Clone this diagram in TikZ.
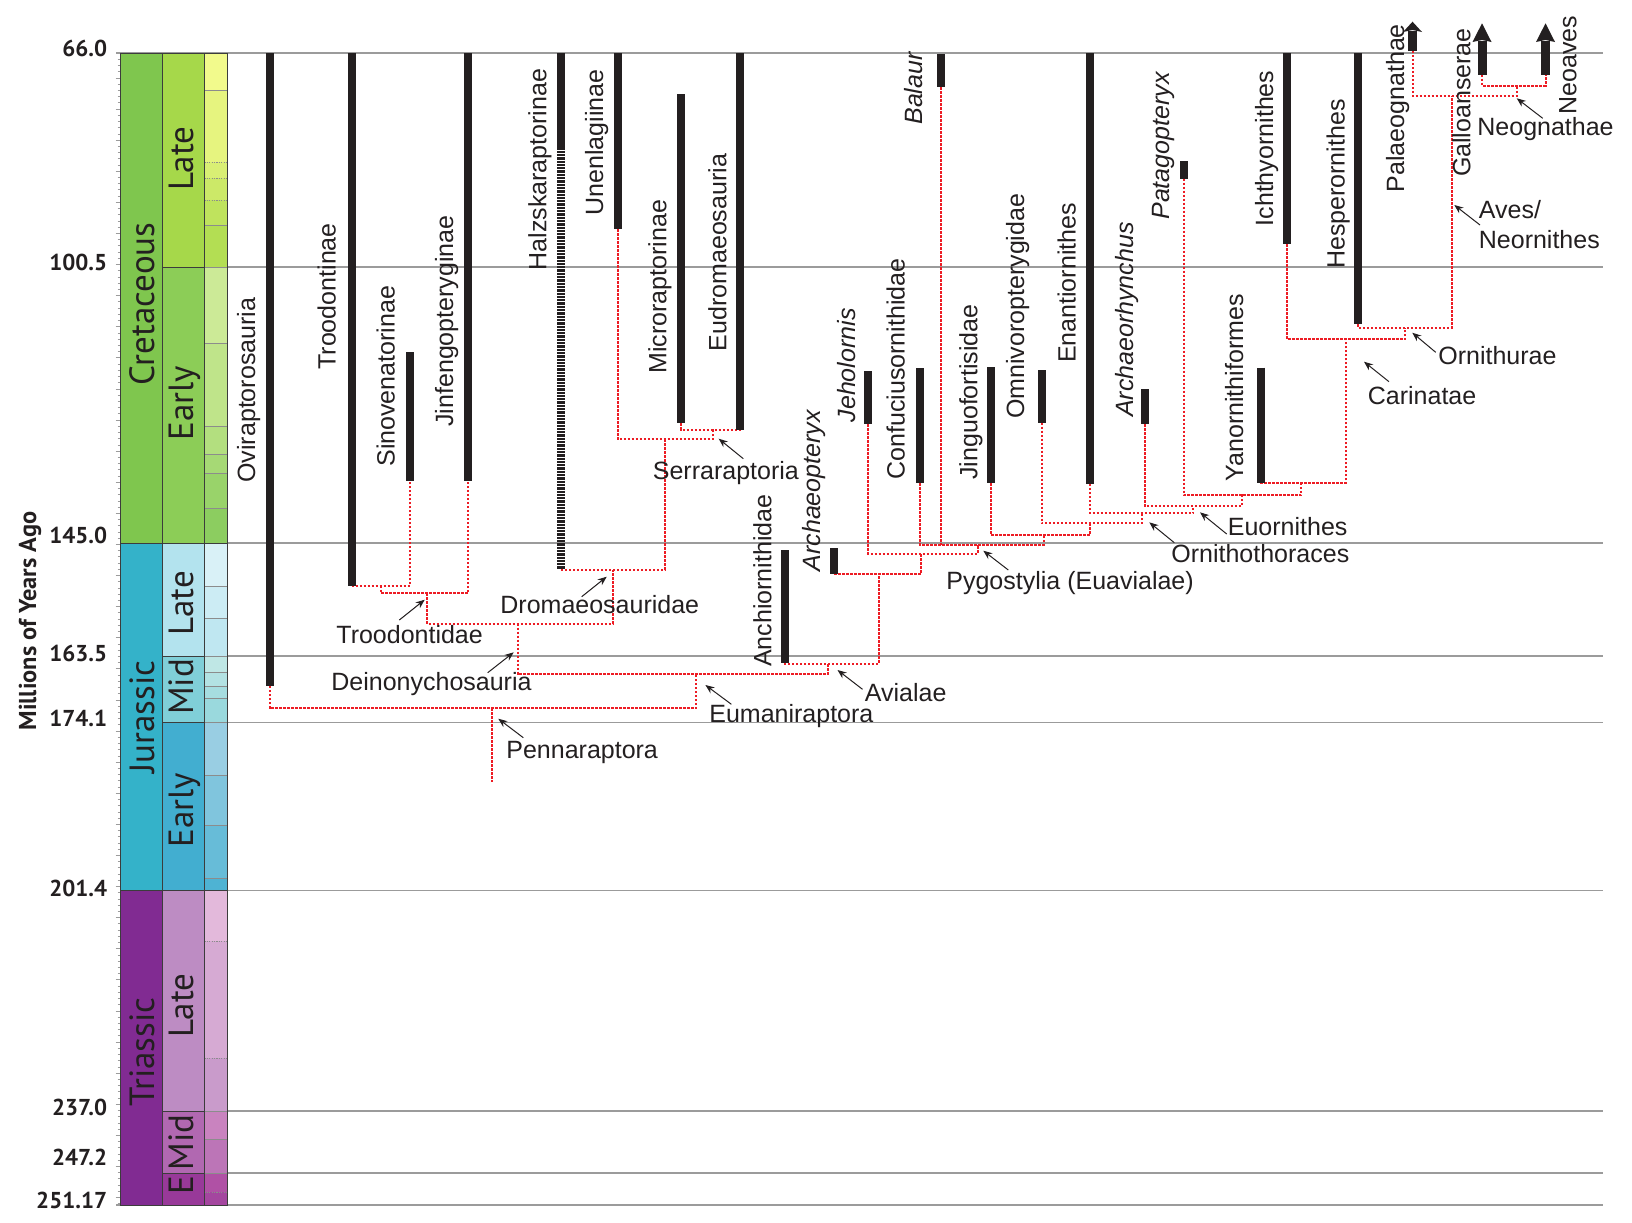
\documentclass[tikz,border=0pt]{standalone}
\usepackage{fontspec}
\setmainfont{Liberation Sans}
\newfontfamily\tsfont{PT Sans}
\usetikzlibrary{arrows.meta}
\definecolor{ink}{HTML}{231F20}
\definecolor{treered}{HTML}{ED1C24}
\definecolor{gridgray}{HTML}{9B9B9B}
\definecolor{colline}{HTML}{3C3C3C}
\definecolor{stline}{HTML}{8C8C8C}
% periods
\definecolor{pK}{HTML}{7FC64E}\definecolor{pJ}{HTML}{34B2C9}\definecolor{pT}{HTML}{812B92}
% epochs
\definecolor{eK2}{HTML}{A6D84A}\definecolor{eK1}{HTML}{8CCD57}
\definecolor{eJ3}{HTML}{B3E3EE}\definecolor{eJ2}{HTML}{80CFD8}\definecolor{eJ1}{HTML}{42AED0}
\definecolor{eT3}{HTML}{BD8CC3}\definecolor{eT2}{HTML}{B168B1}\definecolor{eT1}{HTML}{983999}
\newcommand\tkTax{\fontsize{12.5}{15}\selectfont}
\newcommand\tkNum{\tsfont\bfseries\fontsize{11.5}{13}\selectfont}
\newcommand\tkPer{\tsfont\fontsize{17.5}{20}\selectfont}
\newcommand\tkAxis{\tsfont\bfseries\fontsize{12.2}{14}\selectfont}
\tikzset{
  bar/.style={draw=ink, line width=4pt},
  hatchbar/.style={draw=ink, line width=4pt, dash pattern=on 1.15pt off 0.5pt},
  conn/.style={draw=treered, line width=1pt, dash pattern=on 1.2pt off 0.8pt},
  gridline/.style={draw=gridgray, line width=0.6pt},
  lbl/.style={font=\tkTax, text=ink, inner sep=0pt, anchor=base west},
  rlbl/.style={lbl, rotate=90},
  ilbl/.style={rlbl, font=\tkTax\itshape},
  ptr/.style={draw=ink, line width=0.5pt, -{Stealth[length=4.5pt,width=3.6pt]}},
  agelbl/.style={font=\tkNum, text=ink, inner sep=0pt, anchor=base east},
  perlbl/.style={font=\tkPer, text=ink, inner sep=0pt, anchor=base, rotate=90},
  colborder/.style={draw=colline, line width=0.5pt},
  stageline/.style={draw=stline, line width=0.35pt},
  stagedot/.style={draw=stline, line width=0.35pt, dash pattern=on 0.6pt off 0.6pt},
  tick/.style={draw=gridgray, line width=0.35pt},
  headfill/.style={fill=ink},
}
\begin{document}
\begin{tikzpicture}[x=0.5pt,y=-0.5pt]
\useasboundingbox (0,0) rectangle (1632,1222);

% ---------------- horizontal time lines
\foreach \yy in {267,543,656,722.5,890.5,1111,1173}
  \draw[gridline] (227.5,\yy) -- (1603,\yy);
\draw[gridline] (116,53) -- (1603,53);
\draw[gridline] (116,1205) -- (1603,1205);

% ---------------- ruler ticks
\foreach \t in {66,...,251}{
  \pgfmathsetmacro\ty{53+(\t-66)*6.22}
  \pgfmathtruncatemacro\tm{mod(\t,5)}
  \ifnum\tm=0 \draw[tick] (115.5,\ty) -- (120.5,\ty); \else \draw[tick] (117.5,\ty) -- (120.5,\ty); \fi
}

% ---------------- period column
\fill[pK] (120.5,53) rectangle (162,543);
\fill[pJ] (120.5,543) rectangle (162,890.5);
\fill[pT] (120.5,890.5) rectangle (162,1205);
% ---------------- epoch column
\fill[eK2] (162,53) rectangle (204.3,267);
\fill[eK1] (162,267) rectangle (204.3,543);
\fill[eJ3] (162,543) rectangle (204.3,656);
\fill[eJ2] (162,656) rectangle (204.3,722.5);
\fill[eJ1] (162,722.5) rectangle (204.3,890.5);
\fill[eT3] (162,890.5) rectangle (204.3,1111);
\fill[eT2] (162,1111) rectangle (204.3,1173);
\fill[eT1] (162,1173) rectangle (204.3,1205);
% ---------------- stage column
\foreach \ya/\yb/\cc in {53/90/F2FA8C, 90/162/E6F47F, 162/178/D9EF74, 178/200/CCE968, 200/225/BFE35D, 225/267/B3DE53,
  267/343/CCEA97, 343/426/BFE48A, 426/454/B3DF7F, 454/473.6/A6D975, 473.6/508/99D36A, 508/543/8CCD60,
  543/586/D9F1F7, 586/618/CCECF4, 618/656/BFE7F1,
  656/672.5/BFE7E5, 672.5/686.5/B3E2E3, 686.5/698.5/A6DDE0, 698.5/722.5/9AD9DD,
  722.5/775/99CEE3, 775/825/80C5DD, 825/878/67BCD8, 878/890.5/4EB3D3,
  890.5/941/E3B9DB, 941/1058/D6AAD3, 1058/1111/C99BCB,
  1111/1139/C983BF, 1139/1173/BC75B7, 1173/1192/B051A5, 1192/1205/A4469F}{
  \definecolor{stc}{HTML}{\cc}
  \fill[stc] (204.3,\ya) rectangle (227.5,\yb);
}
\foreach \yy in {90,225,343,426,454,473.6,508,586,618,672.5,686.5,698.5,775,825,878,1139}
  \draw[stageline] (204.3,\yy) -- (227.5,\yy);
\foreach \yy in {162,178,200,941,1058,1192}
  \draw[stagedot] (204.3,\yy) -- (227.5,\yy);
\foreach \yy in {267,656,722.5,1111,1173}{
  \draw[colborder] (162,\yy) -- (204.3,\yy);
  \draw[stageline] (204.3,\yy) -- (227.5,\yy);
}
\foreach \yy in {543,890.5}
  \draw[colborder] (120.5,\yy) -- (227.5,\yy);
\draw[colborder] (120.5,53) rectangle (227.5,1205);
\draw[colborder] (162,53) -- (162,1205);
\draw[colborder] (204.3,53) -- (204.3,1205);

% ---------------- time-scale labels
\node[perlbl] (lK) at (154,304) {Cretaceous};
\node[perlbl] (lJ) at (154,717) {Jurassic};
\node[perlbl] (lT) at (154,1052) {Triassic};
\node[perlbl] (lK2) at (193,158.6) {Late};
\node[perlbl] (lK1) at (193,403) {Early};
\node[perlbl] (lJ3) at (193,603) {Late};
\node[perlbl] (lJ2) at (193,687) {Mid};
\node[perlbl] (lJ1) at (193,810) {Early};
\node[perlbl] (lT3) at (193,1005.5) {Late};
\node[perlbl] (lT2) at (193,1142.5) {Mid};
\node[perlbl] (lT1) at (193,1185.5) {E};

\node[agelbl] (a66) at (107.5,56.5) {66.0};
\node[agelbl] (a100) at (107.5,270) {100.5};
\node[agelbl] (a145) at (107.5,543) {145.0};
\node[agelbl] (a163) at (107.5,661) {163.5};
\node[agelbl] (a174) at (107.5,726) {174.1};
\node[agelbl] (a201) at (107.5,896) {201.4};
\node[agelbl] (a237) at (107.5,1115) {237.0};
\node[agelbl] (a247) at (107.5,1165) {247.2};
\node[agelbl] (a251) at (107.5,1208) {251.17};
\node[font=\tkAxis, text=ink, inner sep=0pt, anchor=base, rotate=90] (axis) at (36,621) {Millions of Years Ago};

% ---------------- bar bottoms (tree tips)
\coordinate (ovi) at (269.7,686);
\coordinate (trooinae) at (351.7,585.7);
\coordinate (sino) at (410.3,481);
\coordinate (jinf) at (468,481);
\coordinate (halszM) at (561,147.3);
\coordinate (halsz) at (561,569.5);
\coordinate (unen) at (617.7,229.3);
\coordinate (micro) at (681,423.3);
\coordinate (eudro) at (740,430);
\coordinate (anch) at (784.7,663.3);
\coordinate (archx) at (834.3,574);
\coordinate (jeho) at (867.7,424.3);
\coordinate (conf) at (919.5,483.3);
\coordinate (bal) at (941.3,87.3);
\coordinate (jing) at (991,483.3);
\coordinate (omni) at (1041.5,422.7);
\coordinate (enan) at (1090,484);
\coordinate (archr) at (1144.5,424.3);
\coordinate (patag) at (1184,178.7);
\coordinate (yano) at (1261,482.7);
\coordinate (ichth) at (1287,244.3);
\coordinate (hesp) at (1358.3,324.3);
\coordinate (palae) at (1412.5,51);
\coordinate (gallo) at (1482,74.7);
\coordinate (neoav) at (1545.5,74.7);

% ---------------- internal nodes (stub x, clade line y)
\coordinate (nTA) at (381,585.7);
\coordinate (nTroo) at (427,593.3);
\coordinate (nSerra) at (712.7,429.5);
\coordinate (nUS) at (665.3,439.3);
\coordinate (nDrom) at (612.7,569.5);
\coordinate (nDein) at (517.7,623.7);
\coordinate (nNeog) at (1517,85.5);
\coordinate (nAves) at (1452,95.8);
\coordinate (nOrnu) at (1405.3,327.7);
\coordinate (nCari) at (1345.5,339);
\coordinate (nYC) at (1301,483.3);
\coordinate (nPC) at (1241.7,495.3);
\coordinate (nEuor) at (1193.3,506);
\coordinate (nOrnt) at (1141.7,513.3);
\coordinate (nOC) at (1090,523.3);
\coordinate (nJC) at (1044,535);
\coordinate (nPyg) at (977.7,544.5);
\coordinate (nJeho) at (921,553.5);
\coordinate (nArch) at (878.6,574);
\coordinate (nAvi) at (827.9,664);
\coordinate (nEuma) at (696,674);
\coordinate (nPenn) at (492,708.3);
\coordinate (root) at (492,782.3);

% ---------------- dotted red tree
\draw[conn] (trooinae) |- (nTA) -| (sino);
\draw[conn] (nTA) |- (nTroo) -| (jinf);
\draw[conn] (micro) |- (nSerra) -| (eudro);
\draw[conn] (unen) |- (nUS) -| (nSerra);
\draw[conn] (halsz) |- (nDrom) -| (nUS);
\draw[conn] (nTroo) |- (nDein) -| (nDrom);
\draw[conn] (gallo) |- (nNeog) -| (neoav);
\draw[conn] (palae) |- (nAves) -| (nNeog);
\draw[conn] (hesp) |- (nOrnu) -| (nAves);
\draw[conn] (ichth) |- (nCari) -| (nOrnu);
\draw[conn] (yano) |- (nYC) -| (nCari);
\draw[conn] (patag) |- (nPC) -| (nYC);
\draw[conn] (archr) |- (nEuor) -| (nPC);
\draw[conn] (enan) |- (nOrnt) -| (nEuor);
\draw[conn] (omni) |- (nOC) -| (nOrnt);
\draw[conn] (jing) |- (nJC) -| (nOC);
\draw[conn] (conf) |- (nPyg) -| (nJC);
\draw[conn] (bal) -- (bal |- nPyg);
\draw[conn] (jeho) |- (nJeho) -| (nPyg);
\draw[conn] (archx) |- (nArch) -| (nJeho);
\draw[conn] (anch) |- (nAvi) -| (nArch);
\draw[conn] (nDein) |- (nEuma) -| (nAvi);
\draw[conn] (ovi) |- (nPenn) -| (nEuma);
\draw[conn] (nPenn) -- (root);

% ---------------- range bars
\draw[bar] (269.7,53) -- (ovi);
\draw[bar] (351.7,53) -- (trooinae);
\draw[bar] (410.3,352) -- (sino);
\draw[bar] (468,53) -- (jinf);
\draw[bar] (561,53) -- (halszM);
\draw[hatchbar] (halszM) -- (561,568.5);
\draw[bar] (617.7,53) -- (unen);
\draw[bar] (681,94.3) -- (micro);
\draw[bar] (740,53) -- (eudro);
\draw[bar] (784.7,550) -- (anch);
\draw[bar] (834.3,548) -- (archx);
\draw[bar] (867.7,371) -- (jeho);
\draw[bar] (919.5,368) -- (conf);
\draw[bar] (941.3,54) -- (bal);
\draw[bar] (991,367.3) -- (jing);
\draw[bar] (1041.5,370.3) -- (omni);
\draw[bar] (1090,53) -- (enan);
\draw[bar] (1144.5,389.3) -- (archr);
\draw[bar] (1184,161) -- (patag);
\draw[bar] (1261,367.7) -- (yano);
\draw[bar] (1287,53.3) -- (ichth);
\draw[bar] (1358.3,53) -- (hesp);
% surviving lineages with arrows
\draw[line width=4.5pt, draw=ink] (palae) -- (1412.5,31);
\fill[headfill] (1403,32) -- (1412.5,21.7) -- (1422,32) -- (1412.5,30) -- cycle;
\draw[line width=4.5pt, draw=ink] (gallo) -- (1482,41);
\fill[headfill] (1472.5,42) -- (1482,23.3) -- (1491.5,42) -- (1482,40) -- cycle;
\draw[line width=4.5pt, draw=ink] (neoav) -- (1545.5,41);
\fill[headfill] (1536,42) -- (1545.5,23.3) -- (1555,42) -- (1545.5,40) -- cycle;

% ---------------- taxon labels (vertical)
\node[rlbl] (tOvi) at (255,483) {Oviraptorosauria};
\node[rlbl] (tTroi) at (335.5,370) {Troodontinae};
\node[rlbl] (tSino) at (394.7,467) {Sinovenatorinae};
\node[rlbl] (tJinf) at (453,427) {Jinfengopteryginae};
\node[rlbl] (tHal) at (546.3,270.7) {Halzskaraptorinae};
\node[rlbl] (tUne) at (603,215.7) {Unenlagiinae};
\node[rlbl] (tMic) at (666.3,374) {Microraptorinae};
\node[rlbl] (tEud) at (726.3,351.7) {Eudromaeosauria};
\node[rlbl] (tAnc) at (771.3,667.3) {Anchiornithidae};
\node[ilbl] (tArx) at (820.7,571.7) {Archaeopteryx};
\node[ilbl] (tJeh) at (855.7,422.7) {Jeholornis};
\node[rlbl] (tCon) at (904.7,480) {Confuciusornithidae};
\node[ilbl] (tBal) at (922.3,125) {Balaur};
\node[rlbl] (tJin) at (977.3,480) {Jinguofortisidae};
\node[rlbl] (tOmn) at (1024,419.3) {Omnivoropterygidae};
\node[rlbl] (tEna) at (1075.7,363.3) {Enantiornithes};
\node[ilbl] (tArr) at (1133,417.3) {Archaeorhynchus};
\node[ilbl] (tPat) at (1169.7,220) {Patagopteryx};
\node[rlbl] (tYan) at (1243,481.7) {Yanornithiformes};
\node[rlbl] (tIch) at (1273,226.7) {Ichthyornithes};
\node[rlbl] (tHes) at (1344.7,269.3) {Hesperornithes};
\node[rlbl] (tPal) at (1404,192.7) {Palaeognathae};
\node[rlbl] (tGal) at (1470.3,177.3) {Galloanserae};
\node[rlbl] (tNeo) at (1576.3,115) {Neoaves};

% ---------------- clade labels (horizontal)
\node[lbl] (cTroo) at (336,643.3) {Troodontidae};
\node[lbl] (cDrom) at (500,613.3) {Dromaeosauridae};
\node[lbl] (cDein) at (331,690) {Deinonychosauria};
\node[lbl] (cPenn) at (506,758.3) {Pennaraptora};
\node[lbl] (cEuma) at (709,722.7) {Eumaniraptora};
\node[lbl] (cAvi) at (864.5,701) {Avialae};
\node[lbl] (cPyg) at (946,589.3) {Pygostylia (Euavialae)};
\node[lbl] (cOrnt) at (1171,562.7) {Ornithothoraces};
\node[lbl] (cEuor) at (1227.5,535) {Euornithes};
\node[lbl] (cSerra) at (652.5,479) {Serraraptoria};
\node[lbl] (cCari) at (1367.5,404.3) {Carinatae};
\node[lbl] (cOrnu) at (1438,364.3) {Ornithurae};
\node[lbl] (cAves) at (1478.5,218.3) {Aves/};
\node[lbl] (cNeor) at (1478.5,248.3) {Neornithes};
\node[lbl] (cNeog) at (1477,135) {Neognathae};

% ---------------- label pointers
\coordinate (pTroo) at (399.3,620);   \coordinate (qTroo) at (424.7,599.7);
\coordinate (pDrom) at (581.7,596.7); \coordinate (qDrom) at (606.7,576.7);
\coordinate (pDein) at (487.7,672.7); \coordinate (qDein) at (513.7,652.3);
\coordinate (pPenn) at (523.3,737.7); \coordinate (qPenn) at (498.3,718.7);
\coordinate (pEuma) at (731.4,704.3); \coordinate (qEuma) at (705.4,685);
\coordinate (pAvi) at (862.5,689.3);  \coordinate (qAvi) at (837.5,670);
\coordinate (pPyg) at (1008.3,570);   \coordinate (qPyg) at (983.3,550.7);
\coordinate (pOrnt) at (1174.3,542.7); \coordinate (qOrnt) at (1149.3,522.3);
\coordinate (pEuor) at (1226.7,534);  \coordinate (qEuor) at (1200,512.3);
\coordinate (pSerra) at (743.3,458.7); \coordinate (qSerra) at (718.7,438.7);
\coordinate (pCari) at (1389,381.7);  \coordinate (qCari) at (1364,361.7);
\coordinate (pOrnu) at (1435.7,352.3); \coordinate (qOrnu) at (1412.3,332.7);
\coordinate (pAves) at (1480,225);    \coordinate (qAves) at (1454.3,205);
\coordinate (pNeog) at (1542.7,118.3); \coordinate (qNeog) at (1516.7,98.3);
\foreach \k in {Troo,Drom,Dein,Penn,Euma,Avi,Pyg,Ornt,Euor,Serra,Cari,Ornu,Aves,Neog}
  \draw[ptr] (p\k) -- (q\k);
\end{tikzpicture}
\end{document}
